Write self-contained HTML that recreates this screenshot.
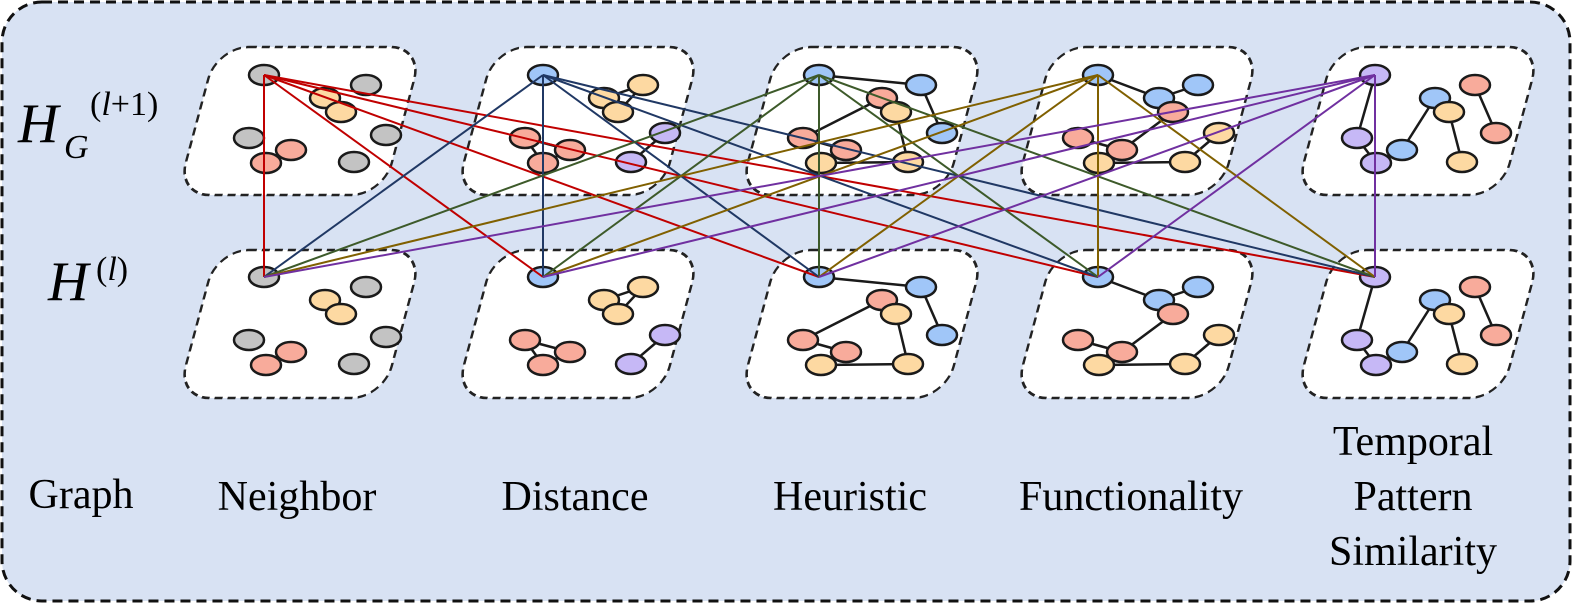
<!DOCTYPE html>
<html><head><meta charset="utf-8"><style>
html,body{margin:0;padding:0;background:#fff}
svg{display:block}
text{font-family:"Liberation Serif",serif;fill:#000}
.n{stroke:#1a1a1a;stroke-width:2.5}
.g{fill:#c3c3c3}.o{fill:#fdd9a2}.r{fill:#f8ab9b}.b{fill:#a0c6f8}.p{fill:#c6b8f6}
.e{stroke:#1a1a1a;stroke-width:2.5}
.L{stroke-width:2;fill:none}
.box{fill:#fff;stroke:#222;stroke-width:2.5;stroke-dasharray:8 5}
</style></head><body>
<svg width="1573" height="604" viewBox="0 0 1573 604" xmlns="http://www.w3.org/2000/svg">
<rect x="2" y="2" width="1568" height="599" rx="40" fill="#d8e2f3" stroke="#111" stroke-width="3" stroke-dasharray="10 6"/>
<defs>
<g id="pbox"><rect x="-103" y="-74" width="206" height="148" rx="32" class="box" transform="skewX(-15)"/></g>
<g id="c1">
<ellipse class="n g" cx="264" cy="75" rx="15" ry="10"/>
<ellipse class="n g" cx="366" cy="85" rx="15" ry="10"/>
<ellipse class="n o" cx="325" cy="98" rx="15" ry="10"/>
<ellipse class="n o" cx="341" cy="112" rx="15" ry="10"/>
<ellipse class="n g" cx="249" cy="138" rx="15" ry="10"/>
<ellipse class="n r" cx="291" cy="150" rx="15" ry="10"/>
<ellipse class="n r" cx="266" cy="163" rx="15" ry="10"/>
<ellipse class="n g" cx="386" cy="135" rx="15" ry="10"/>
<ellipse class="n g" cx="354" cy="162" rx="15" ry="10"/>
</g>
<g id="c2">
<line class="e" x1="604" y1="98" x2="643" y2="85"/><line class="e" x1="643" y1="85" x2="618" y2="112"/><line class="e" x1="604" y1="98" x2="618" y2="112"/>
<line class="e" x1="525" y1="138" x2="570" y2="150"/><line class="e" x1="570" y1="150" x2="543" y2="163"/><line class="e" x1="525" y1="138" x2="543" y2="163"/>
<line class="e" x1="665" y1="133" x2="631" y2="162"/>
<ellipse class="n b" cx="543" cy="75" rx="15" ry="10"/>
<ellipse class="n o" cx="643" cy="85" rx="15" ry="10"/>
<ellipse class="n o" cx="604" cy="98" rx="15" ry="10"/>
<ellipse class="n o" cx="618" cy="112" rx="15" ry="10"/>
<ellipse class="n r" cx="525" cy="138" rx="15" ry="10"/>
<ellipse class="n r" cx="570" cy="150" rx="15" ry="10"/>
<ellipse class="n r" cx="543" cy="163" rx="15" ry="10"/>
<ellipse class="n p" cx="665" cy="133" rx="15" ry="10"/>
<ellipse class="n p" cx="631" cy="162" rx="15" ry="10"/>
</g>
<g id="c3">
<line class="e" x1="819" y1="75" x2="921" y2="85"/><line class="e" x1="921" y1="85" x2="942" y2="133"/>
<line class="e" x1="882" y1="98" x2="803" y2="138"/><line class="e" x1="803" y1="138" x2="846" y2="150"/>
<line class="e" x1="846" y1="150" x2="821" y2="163"/><line class="e" x1="821" y1="163" x2="908" y2="162"/><line class="e" x1="908" y1="162" x2="896" y2="112"/>
<ellipse class="n b" cx="819" cy="75" rx="15" ry="10"/>
<ellipse class="n b" cx="921" cy="85" rx="15" ry="10"/>
<ellipse class="n r" cx="882" cy="98" rx="15" ry="10"/>
<ellipse class="n o" cx="896" cy="112" rx="15" ry="10"/>
<ellipse class="n b" cx="942" cy="133" rx="15" ry="10"/>
<ellipse class="n r" cx="803" cy="138" rx="15" ry="10"/>
<ellipse class="n r" cx="846" cy="150" rx="15" ry="10"/>
<ellipse class="n o" cx="821" cy="163" rx="15" ry="10"/>
<ellipse class="n o" cx="908" cy="162" rx="15" ry="10"/>
</g>
<g id="c4">
<line class="e" x1="1098" y1="75" x2="1159" y2="98" stroke-width="3.5"/><line class="e" x1="1159" y1="98" x2="1198" y2="85"/>
<line class="e" x1="1173" y1="112" x2="1122" y2="150"/><line class="e" x1="1078" y1="138" x2="1122" y2="150"/>
<line class="e" x1="1122" y1="150" x2="1099" y2="163"/><line class="e" x1="1099" y1="163" x2="1185" y2="162"/><line class="e" x1="1185" y1="162" x2="1219" y2="133"/>
<ellipse class="n b" cx="1098" cy="75" rx="15" ry="10"/>
<ellipse class="n b" cx="1198" cy="85" rx="15" ry="10"/>
<ellipse class="n b" cx="1159" cy="98" rx="15" ry="10"/>
<ellipse class="n r" cx="1173" cy="112" rx="15" ry="10"/>
<ellipse class="n o" cx="1219" cy="133" rx="15" ry="10"/>
<ellipse class="n r" cx="1078" cy="138" rx="15" ry="10"/>
<ellipse class="n r" cx="1122" cy="150" rx="15" ry="10"/>
<ellipse class="n o" cx="1099" cy="163" rx="15" ry="10"/>
<ellipse class="n o" cx="1185" cy="162" rx="15" ry="10"/>
</g>
<g id="c5">
<line class="e" x1="1375" y1="75" x2="1357" y2="138"/><line class="e" x1="1357" y1="138" x2="1376" y2="163"/>
<line class="e" x1="1376" y1="163" x2="1402" y2="150"/><line class="e" x1="1402" y1="150" x2="1435" y2="98"/>
<line class="e" x1="1449" y1="112" x2="1462" y2="162"/><line class="e" x1="1475" y1="85" x2="1496" y2="133"/>
<ellipse class="n p" cx="1375" cy="75" rx="15" ry="10"/>
<ellipse class="n r" cx="1475" cy="85" rx="15" ry="10"/>
<ellipse class="n b" cx="1435" cy="98" rx="15" ry="10"/>
<ellipse class="n o" cx="1449" cy="112" rx="15" ry="10"/>
<ellipse class="n p" cx="1357" cy="138" rx="15" ry="10"/>
<ellipse class="n b" cx="1402" cy="150" rx="15" ry="10"/>
<ellipse class="n p" cx="1376" cy="163" rx="15" ry="10"/>
<ellipse class="n r" cx="1496" cy="133" rx="15" ry="10"/>
<ellipse class="n o" cx="1462" cy="162" rx="15" ry="10"/>
</g>
</defs>
<use href="#pbox" transform="translate(300,121)"/><use href="#pbox" transform="translate(300,324)"/>
<use href="#pbox" transform="translate(578,121)"/><use href="#pbox" transform="translate(578,324)"/>
<use href="#pbox" transform="translate(862,121)"/><use href="#pbox" transform="translate(862,324)"/>
<use href="#pbox" transform="translate(1137,121)"/><use href="#pbox" transform="translate(1137,324)"/>
<use href="#pbox" transform="translate(1418,121)"/><use href="#pbox" transform="translate(1418,324)"/>
<use href="#c1"/><use href="#c2"/><use href="#c3"/><use href="#c4"/><use href="#c5"/>
<g transform="translate(0,202)"><use href="#c1"/><use href="#c2"/><use href="#c3"/><use href="#c4"/><use href="#c5"/></g>
<g class="L" stroke="#c00000">
<line x1="264" y1="75" x2="264" y2="277"/><line x1="264" y1="75" x2="543" y2="277"/><line x1="264" y1="75" x2="819" y2="277"/><line x1="264" y1="75" x2="1098" y2="277"/><line x1="264" y1="75" x2="1375" y2="277"/>
</g>
<g class="L" stroke="#203864">
<line x1="543" y1="75" x2="264" y2="277"/><line x1="543" y1="75" x2="543" y2="277"/><line x1="543" y1="75" x2="819" y2="277"/><line x1="543" y1="75" x2="1098" y2="277"/><line x1="543" y1="75" x2="1375" y2="277"/>
</g>
<g class="L" stroke="#3d5a2a">
<line x1="819" y1="75" x2="264" y2="277"/><line x1="819" y1="75" x2="543" y2="277"/><line x1="819" y1="75" x2="819" y2="277"/><line x1="819" y1="75" x2="1098" y2="277"/><line x1="819" y1="75" x2="1375" y2="277"/>
</g>
<g class="L" stroke="#806000">
<line x1="1098" y1="75" x2="264" y2="277"/><line x1="1098" y1="75" x2="543" y2="277"/><line x1="1098" y1="75" x2="819" y2="277"/><line x1="1098" y1="75" x2="1098" y2="277"/><line x1="1098" y1="75" x2="1375" y2="277"/>
</g>
<g class="L" stroke="#7030a0">
<line x1="1375" y1="75" x2="264" y2="277"/><line x1="1375" y1="75" x2="543" y2="277"/><line x1="1375" y1="75" x2="819" y2="277"/><line x1="1375" y1="75" x2="1098" y2="277"/><line x1="1375" y1="75" x2="1375" y2="277"/>
</g>
<text x="18" y="142" font-size="56" font-style="italic">H</text>
<text x="64" y="158" font-size="34" font-style="italic">G</text>
<text x="90" y="115" font-size="34">(<tspan font-style="italic">l</tspan>+1)</text>
<text x="48" y="300" font-size="56" font-style="italic">H</text>
<text x="96" y="280" font-size="34">(<tspan font-style="italic">l</tspan>)</text>
<g font-size="42" text-anchor="middle">
<text x="81" y="508">Graph</text>
<text x="297" y="510">Neighbor</text>
<text x="575" y="510">Distance</text>
<text x="850" y="510">Heuristic</text>
<text x="1131" y="510">Functionality</text>
<text x="1413" y="455">Temporal</text>
<text x="1413" y="510">Pattern</text>
<text x="1413" y="565">Similarity</text>
</g>
</svg>
</body></html>
